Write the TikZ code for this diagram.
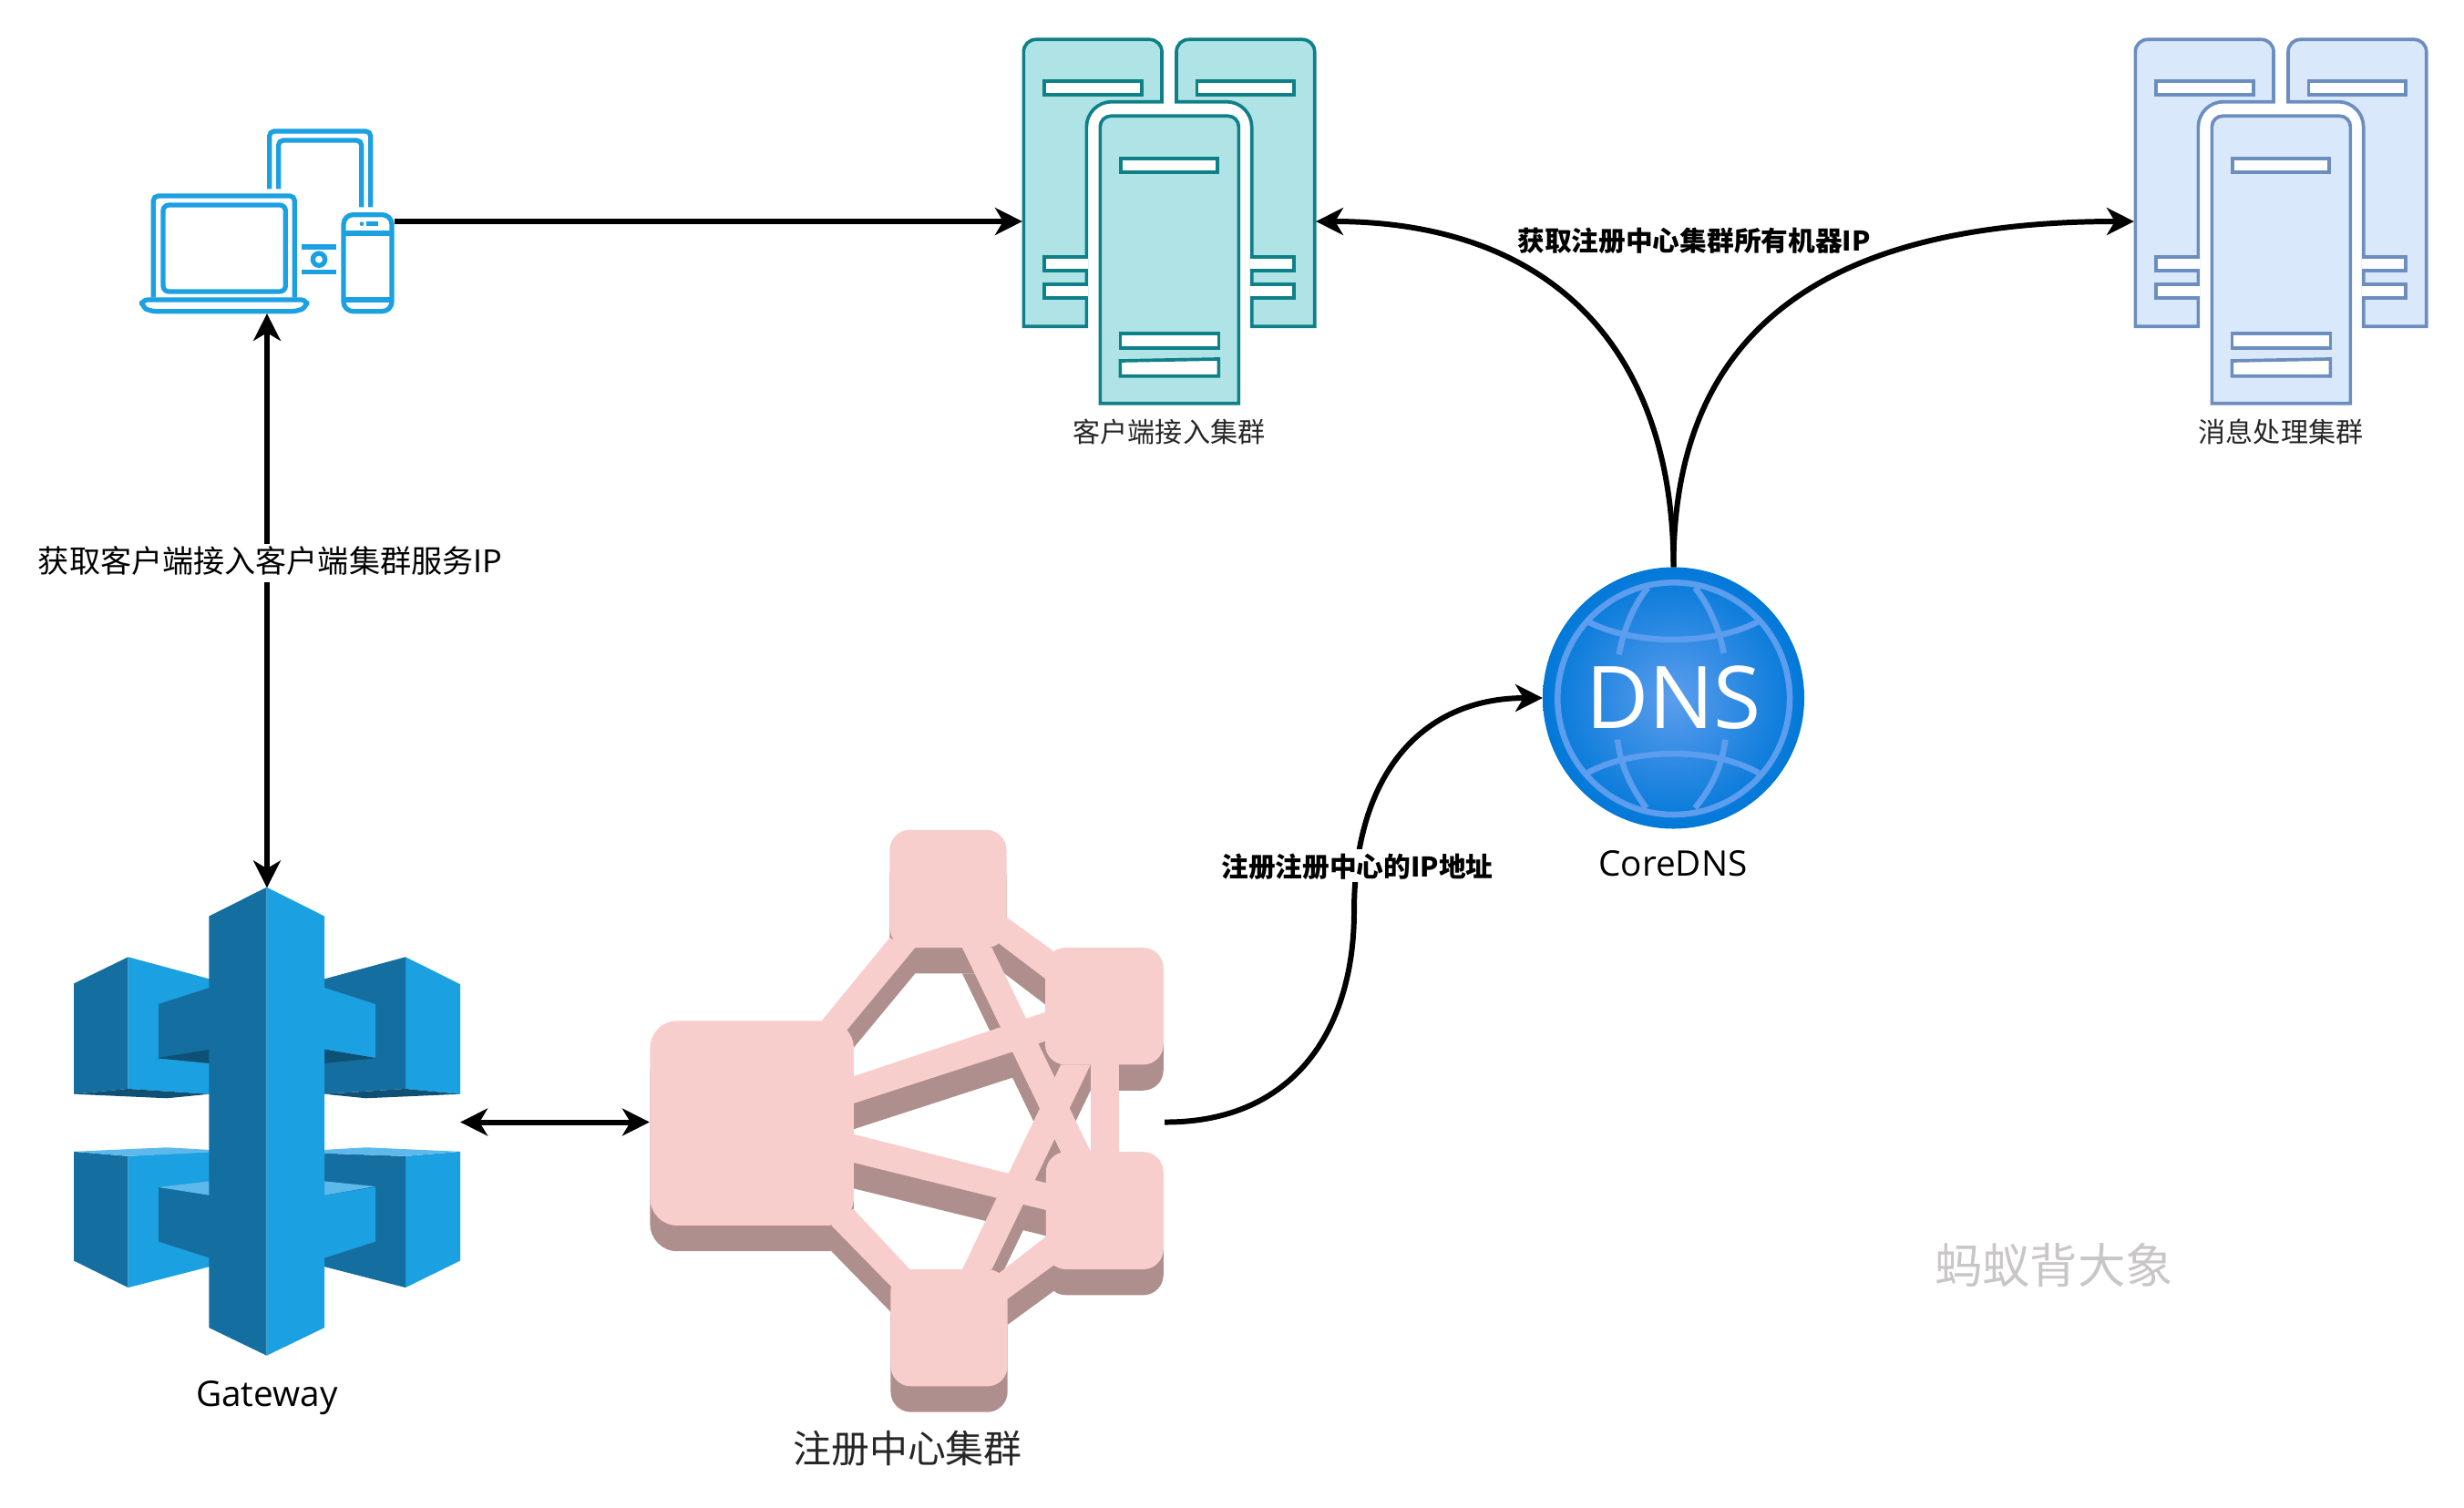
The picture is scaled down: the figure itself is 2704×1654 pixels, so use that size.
\documentclass[tikz,border=0pt]{standalone}
\usepackage{fontspec}
\usetikzlibrary{arrows.meta}
\setmainfont{Open Sans}
\newfontfamily\cjk{Noto Sans CJK SC}

\definecolor{gwLight}{HTML}{1BA0E2}
\definecolor{gwDark}{HTML}{146FA0}
\definecolor{gwDeep}{HTML}{0E5175}
\definecolor{gwPale}{HTML}{5DB9EC}
\definecolor{regFront}{HTML}{F8CECC}
\definecolor{regShadow}{HTML}{AE8F8D}
\definecolor{dnsLine}{HTML}{5C9DED}
\definecolor{dnsEdge}{HTML}{0178D8}
\definecolor{accessFill}{HTML}{B0E3E6}
\definecolor{accessLine}{HTML}{0E8088}
\definecolor{workerFill}{HTML}{DAE8FC}
\definecolor{workerLine}{HTML}{6C8EBF}
\definecolor{markGray}{HTML}{C9C6C6}

\tikzset{
	iconbox/.style={inner sep=0pt, outer sep=0pt},
	conn/.style={line width=1.7pt, >={Stealth[length=8.5pt, width=8.5pt, inset=2.5pt]}},
	caption/.style={font=\cjk\fontsize{8.55}{10}\selectfont, text=black!85},
	bolded/.style={font=\cjk\bfseries\fontsize{8.45}{10}\selectfont},
	handlabel/.style={font=\fontsize{11}{13}\selectfont}
}

% one cluster of three machines: left, top, fill, stroke
\newcommand{\machines}[4]{
	\begin{scope}[shift={(#1,#2)}, scale=1/3, line width=1.05pt, draw=#4, fill=#3]
		\foreach \sx/\ox in {1/0,-1/1098} {
			\begin{scope}[shift={(\ox,0)}, xscale=\sx]
				\filldraw (70,1015) -- (70,110) arc (180:270:40) -- (485,70) arc (270:360:40) -- (525,275) -- (360,275) arc (-90:-180:83) -- (277,1015) -- cycle;
				\filldraw[fill=white] (138,208) rectangle (458,252);
				\filldraw[fill=white] (283,785) -- (138,785) -- (138,830) -- (283,830);
				\filldraw[fill=white] (283,877) -- (138,877) -- (138,922) -- (283,922);
			\end{scope}
		}
		\filldraw (322,1268) -- (322,357) arc (180:270:35) -- (743,322) arc (270:360:35) -- (778,1268) -- cycle;
		\filldraw[fill=white] (390,462) rectangle (708,508);
		\filldraw[fill=white] (388,1038) rectangle (712,1085);
		\filldraw[fill=white] (388,1128) -- (712,1122) -- (712,1178) -- (388,1178) -- cycle;
	\end{scope}
}

% body of the registry mesh, shifted down for its shadow
\newcommand{\meshbody}[2]{
	\begin{scope}[shift={(0,#1)}, fill=#2]
		% links
		\fill (527,488) -- (722,295) -- (795,318) -- (597,512) -- cycle;
		\fill (619,617) -- (1168,468) -- (1170,535) -- (619,680) -- cycle;
		\fill (619,752) -- (1170,865) -- (1170,928) -- (619,818) -- cycle;
		\fill (617,925) -- (780,1066) -- (725,1105) -- (555,964) -- cycle;
		\fill (1057,247) -- (1190,325) -- (1168,390) -- (1035,308) -- cycle;
		\fill (930,318) -- (1015,318) -- (1300,795) -- (1215,797) -- cycle;
		\fill (930,1066) -- (1213,590) -- (1298,590) -- (1015,1066) -- cycle;
		\fill (1035,1075) -- (1170,990) -- (1195,1055) -- (1060,1135) -- cycle;
		\fill (1298,590) rectangle (1380,793);
		% machines
		\fill[rounded corners=8.5pt] (35,488) rectangle (619,964);
		\fill[rounded corners=6.3pt] (722,44) rectangle (1057,318);
		\fill[rounded corners=6.3pt] (1168,318) rectangle (1507,590);
		\fill[rounded corners=6.3pt] (1170,793) rectangle (1507,1066);
		\fill[rounded corners=6.3pt] (725,1066) rectangle (1060,1338);
	\end{scope}
}

\begin{document}
\begin{tikzpicture}[x=0.01cm, y=-0.01cm]
\useasboundingbox (0,0) rectangle (2704,1654);

% Anchors of the icons
\node[iconbox, minimum width=2.8cm, minimum height=2.02cm] (devices) at (293,243) {};
\node[iconbox, minimum width=3.22cm, minimum height=4.02cm] (access) at (1283,243) {};
\node[iconbox, minimum width=3.22cm, minimum height=4.02cm] (worker) at (2503,243) {};
\node[iconbox, minimum width=4.24cm, minimum height=5.14cm] (gateway) at (293,1231.5) {};
\node[iconbox, minimum width=5.65cm, minimum height=6.4cm] (registry) at (995.5,1231.5) {};
\node[iconbox, circle, minimum size=2.87cm] (dns) at (1836.5,766) {};

% Devices
\begin{scope}[shift={(130,120)}, scale=1/3, draw=gwLight, line width=1.5pt]
	\draw[rounded corners=1.5pt] (497,262) -- (497,72) -- (830,72) -- (830,322);
	\draw[rounded corners=1.5pt] (527,262) -- (527,102) -- (800,102) -- (800,322);
	\draw[rounded corners=1.5pt] (115,620) -- (115,285) -- (580,285) -- (580,620);
	\draw[rounded corners=1.8pt] (147,315) rectangle (550,600);
	\draw[rounded corners=1.8pt] (77,627) -- (620,627) -- (620,650) -- (590,665) -- (105,665) -- (77,650) -- cycle;
	\draw[rounded corners=3pt] (741,347) rectangle (900,665);
	\draw (741,408) -- (900,408);
	\draw (741,627) -- (900,627);
	\fill[gwLight] (801,377) circle (7);
	\fill[gwLight] (817,369) rectangle (855,385);
	\draw (603,453) -- (717,453);
	\draw (603,535) -- (717,535);
	\draw (660,494) circle (20);
\end{scope}

% Machine clusters
\machines{1100}{20}{accessFill}{accessLine}
\machines{2320}{20}{workerFill}{workerLine}
\node[caption] (accessname) at (1283,474) {客户端接入集群};
\node[caption] (workername) at (2503,474) {消息处理集群};

% Gateway
\begin{scope}[shift={(60,950)}, xscale=1/3, yscale=0.3827]
	\fill[gwDark] (63,338) -- (242,262) -- (242,640) -- (63,655) -- cycle;
	\fill[gwLight] (242,262) -- (510,325) -- (510,655) -- (242,640) -- cycle;
	\fill[gwDeep] (63,655) -- (242,640) -- (510,655) -- (370,667) -- cycle;
	\fill[gwDark] (342,397) -- (510,350) -- (510,550) -- (342,552) -- cycle;
	\fill[gwDeep] (335,552) -- (510,527) -- (510,567) -- cycle;
	\fill[gwLight] (1155,262) -- (1335,340) -- (1335,655) -- (1155,640) -- cycle;
	\fill[gwDark] (1155,262) -- (888,325) -- (888,655) -- (1155,640) -- cycle;
	\fill[gwDeep] (888,655) -- (1155,640) -- (1335,655) -- (1025,667) -- cycle;
	\fill[gwLight] (888,350) -- (1056,397) -- (1056,552) -- (888,527) -- cycle;
	\fill[gwDeep] (888,527) -- (1060,552) -- (888,567) -- cycle;
	\fill[gwDark] (63,820) -- (242,833) -- (242,1210) -- (63,1133) -- cycle;
	\fill[gwLight] (242,833) -- (510,820) -- (510,1150) -- (242,1210) -- cycle;
	\fill[gwPale] (63,820) -- (370,808) -- (510,815) -- (510,822) -- (242,833) -- cycle;
	\fill[gwDark] (342,922) -- (510,945) -- (510,1125) -- (342,1078) -- cycle;
	\fill[gwPale] (342,922) -- (510,905) -- (510,945) -- cycle;
	\fill[gwLight] (1155,833) -- (1335,820) -- (1335,1133) -- (1155,1210) -- cycle;
	\fill[gwDark] (888,825) -- (1155,833) -- (1155,1210) -- (888,1150) -- cycle;
	\fill[gwPale] (888,815) -- (1025,808) -- (1335,820) -- (1155,833) -- (888,825) -- cycle;
	\fill[gwLight] (888,945) -- (1056,922) -- (1056,1078) -- (888,1125) -- cycle;
	\fill[gwPale] (888,905) -- (1056,920) -- (888,945) -- cycle;
	\fill[gwDark] (508,145) -- (698,62) -- (698,1405) -- (508,1325) -- cycle;
	\fill[gwLight] (698,62) -- (888,145) -- (888,1325) -- (698,1405) -- cycle;
\end{scope}
\node[handlabel] (gatewayname) at (293,1534) {Gateway};

% Registry
\begin{scope}[shift={(700,890)}, xscale=0.3827, yscale=0.4719]
	\meshbody{60}{regShadow}
	\meshbody{0}{regFront}
\end{scope}
\node[caption, font=\cjk\fontsize{11.9}{14}\selectfont] (registryname) at (996,1590) {注册中心集群};

% CoreDNS
\shade[inner color=dnsLine, outer color=dnsEdge] (dns.center) circle (143.5);
\begin{scope}[shift={(1660,600)}, scale=1/3, draw=dnsLine, line width=1.85pt]
	\draw (530,500) circle (382);
	\draw (250,248) .. controls (400,325) and (660,325) .. (805,248);
	\draw (245,745) .. controls (400,660) and (660,660) .. (810,745);
	\draw (445,135) .. controls (400,190) and (365,270) .. (350,355);
	\draw (600,135) .. controls (645,190) and (680,270) .. (695,350);
	\draw (345,635) .. controls (355,720) and (390,795) .. (440,860);
	\draw (700,635) .. controls (690,720) and (655,795) .. (600,860);
\end{scope}
\node[text=white, font=\fontsize{27}{30}\selectfont] (dnstext) at (dns.center) {DNS};
\node[handlabel] (dnsname) at (1836,948) {CoreDNS};

% Connectors
\draw[conn, <->] (devices.south) -- (gateway.north);
\node[fill=white, inner sep=0pt, text height=9pt, text depth=3pt, font=\cjk\fontsize{9.7}{12}\selectfont] (fetchaccess) at (296.5,618) {获取客户端接入客户端集群服务IP};
\draw[conn, ->] (devices.east) -- (access.west);
\draw[conn, <->] (gateway.east) -- (registry.west);
\draw[conn, ->] (registry.east) .. controls (1420,1232) and (1486,1130) .. (1486,1000) .. controls (1486,850) and (1560,766) .. (dns.west);
\draw[conn, ->] (dns.north) .. controls (1836,380) and (1700,243) .. (access.east);
\draw[conn, ->] (dns.north) .. controls (1836,380) and (1980,243) .. (worker.west);

\node[bolded] (fetchall) at (1859,264) {获取注册中心集群所有机器IP};
\node[bolded, fill=white, inner sep=0pt, text height=8.5pt, text depth=1.5pt] (register) at (1489.5,950) {注册注册中心的IP地址};

% Watermark
\node[font=\cjk\fontsize{14.9}{16}\selectfont, text=markGray] (watermark) at (2254,1388) {蚂蚁背大象};

\end{tikzpicture}
\end{document}
